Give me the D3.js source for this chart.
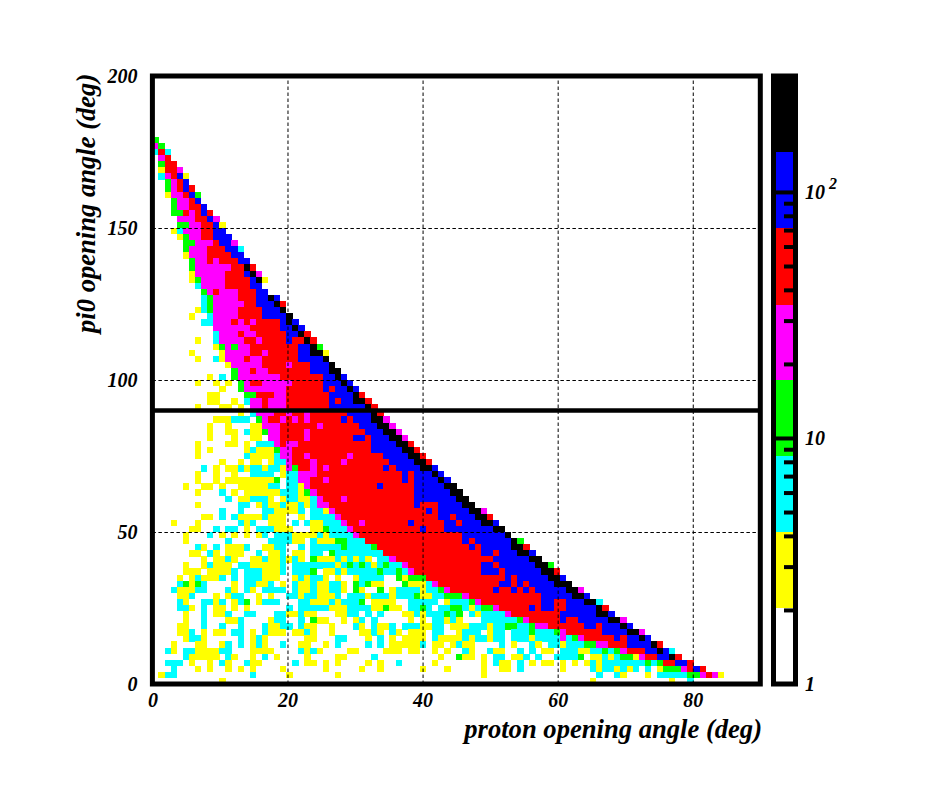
<!DOCTYPE html>
<html><head><meta charset="utf-8"><style>html,body{margin:0;background:#fff}svg{display:block}text{font-family:"Liberation Serif",serif;font-weight:bold;font-style:italic;fill:#000}</style>
<script src="https://cdn.jsdelivr.net/npm/d3@7"></script></head><body><svg id="c" width="937" height="790"></svg>
<script>
const xTicks=[0,20,40,60,80], yTicks=[0,50,100,150,200];
const xGrid=[20,40,60,80], yGrid=[50,100,150];
const bandColors=["#ffffff","#ffff00","#00ffff","#00ff00","#ff00ff","#ff0000","#0000ff","#000000"];
const bandEdges=[1,2.03,4.14,8.45,17.2,34.8,71.5,146,296];
const barMinor=[2,3,4,5,6,7,8,9,20,30,40,50,60,70,80,90];
const barMajor=[10,100];
const cutValue=90;
// occupied bins, top row first (row 89 down to row 0); "from-to:colourBand"
const binRows=[
"0:3","0:4 1:3","0:2 1:5 2:2","1:4 2:5","1:3 2-3:5","1:1 2-3:5 4:4","1:2 2:4 3:5 4:6 5:1","2:3 3:4 4:5 5:6","2:3 3:4 4:5 5:6 6:5","2:1 3-4:4 5:5 6:6 7:3",
"3:3 4-5:4 6:5 7:6","3:3 4-5:4 6-7:5 8:6","3-4:3 5:5 6:4 7:5 8:6 9:5","4-6:4 7-8:5 9:6 10:4","4-5:3 6-7:4 8-9:5 10:6 11:1","3:1 4:2 5-7:4 8-9:5 10-11:6","4:1 5:3 6-7:4 8-9:5 10-12:6","5-6:3 7-9:4 10:5 11-12:6 13:4","5:3 6-8:4 9-11:5 12-13:6 14:2","5:1 6-8:4 9-12:5 13-14:6",
"6:3 7-8:4 9:5 10:4 11-13:5 14-15:6","6:3 7-12:4 13-14:5 15:7 16:5","6:1 7-11:4 12-14:5 15:6 16:7 17:4","6:1 7:3 8-11:4 12-15:5 16:6 17:7 18:1","7:2 8-11:4 12-15:5 16-17:6","8:3 9:4 10:5 11-13:4 14-16:5 17-18:6","8:2 9:3 10-13:4 14-16:5 17-18:6 19:7 20:6","8:2 9:3 10-14:4 15-16:5 17-19:6 20:7 21:5","7:1 8:2 9:3 10-13:4 14-17:5 18-20:6 21:7","6:1 9:2 10-13:4 14-17:5 18-21:6 22:7",
"8-9:2 10-12:4 13:5 14:4 15:5 16:4 17-20:5 21:6 22:7 23:6","10-15:4 16-20:5 21-22:6 23:7 24:6","10:2 11-13:4 14:5 15-16:4 17-21:5 22-23:6 24:7 25:5","7:1 10:2 11-14:4 15-16:5 17:4 18-21:5 22:6 23-24:5 25:7 26:5","10:1 11:3 12:4 13:3 14-15:4 16-23:5 24-25:6 26:7 27:3","6:1 11:1 12-15:4 16-17:5 18:4 19-23:5 24-25:6 26-27:7 28:1","7:1 10:2 11:1 12-14:4 15:5 16-17:4 18-23:5 24-27:6 28:7","12:1 13-17:4 18-21:5 22:4 23-25:5 26-28:6 29:7","13:3 14-15:4 16:5 17-18:4 19-25:5 26-28:6 29-30:7","9:1 11:2 13:3 14-20:4 21-27:5 28-29:6 30:7 31:6",
"7:1 10:1 12:1 14:3 15:4 16-17:5 18-22:4 23-27:5 28-30:6 31:7 32:6","11:1 14:3 15-21:4 22-27:5 28:6 29:5 30-31:6 32:7 33:6","9-10:1 15-16:3 17-19:5 20-21:4 22-28:5 29-32:6 33:7 34:5","9-10:1 13:1 15:2 16-17:4 18:5 19-21:4 22-28:5 29:6 30:5 31-32:6 33-34:7 35:5","7:1 11-12:1 14:1 16-17:4 18:5 19-21:4 22-28:5 29-34:6 35:7 36:5","14:1 16:2 17-19:4 20-21:5 22:4 23-24:5 25:4 26-31:5 32-35:6 36:7 37:5","10-12:1 13-15:2 17:3 18:4 19-20:5 21:4 22:5 23:4 24:5 25:4 26-30:5 31:6 32:5 33-35:6 36-37:7 38:4","9:1 12:1 16-17:1 18-20:4 21-26:5 27:4 28-33:5 34-36:6 37-38:7 39:4","9:1 12-13:1 15:2 16-17:1 18:3 19-20:4 21-24:5 25:4 26-34:5 35-37:6 38-39:7 40:4","9:1 13:1 16-17:1 19-20:4 21-24:5 25:4 26-32:5 33-34:6 35:5 36-38:6 39-40:7 41:4",
"7:1 12-13:1 15:1 17-19:2 20:4 21:5 22-23:4 24-35:5 36-39:6 40-41:7 42:5","7:1 9:1 15:1 16:2 17-19:1 20:3 21-22:4 23-35:5 36-40:6 41-42:7 43:5","7:1 15:2 16-19:1 20:2 21-22:4 23-24:5 25:4 26-31:5 32:4 33-37:5 38-41:6 42-43:7 44:5","11:1 14:1 16-17:1 19:1 20-21:2 22:4 23-25:5 26:4 27-30:5 31:4 32-38:5 39-42:6 43-44:7 45:5","8:2 10:1 12-13:1 14:2 15:1 16-17:2 18:1 19-20:2 21:1 22:4 23:3 24-25:5 26:4 27:5 28:4 29-37:5 38:6 39:5 40-43:6 44-45:7 46:6","7:1 10:1 13:1 16-19:2 21:1 22-23:2 24-26:4 27-40:5 41:6 42:5 43-45:6 46:7 47:6","7:1 10:1 12-19:1 20:3 22-23:2 24-25:4 26-27:5 28:4 29-40:5 41:6 42:5 43-46:6 47:7 48:6","5:1 8-9:1 11:1 14-18:1 19-20:2 22-23:2 24:1 25:4 26-36:5 37:6 38-42:5 43-47:6 48-49:7","7:1 11:2 13:1 15-20:1 21-23:2 24:1 25:3 26:4 27-42:5 43-48:6 49-50:7","12:2 14-15:1 16-18:2 19:1 21:1 22-23:2 24-25:1 26:2 27:4 28-30:5 31:4 32-42:5 43-49:6 50-51:7",
"7:1 14-15:2 17:1 18:2 19-20:1 21:2 22-23:1 24:2 25:1 26:2 27-28:4 29-42:5 43:6 44-46:5 47-50:6 51-52:7","11:2 14:2 18-19:2 20-23:1 24:2 26-27:2 28:1 29:4 30-44:5 45:6 46:5 47-51:6 52-53:7 54:4","8-9:1 11:2 13:2 14-17:1 18:2 19-21:1 24:1 26-29:2 30:4 31-46:5 47-48:6 49:5 50-52:6 53-54:7 55:5","3:1 7:1 14:2 15:1 16:2 19-21:1 23:2 25:2 26-27:1 28-30:2 31:4 32-33:5 34:4 35-41:5 42:6 43-47:5 48-49:6 50:5 51-53:6 54-55:7 56:6","6-7:1 10:2 12-13:2 15:1 17-19:2 20-22:1 26-27:1 28:3 29-31:2 32:4 33-43:5 44:6 45-47:5 48-55:6 56-57:7","5:1 9:2 11:1 13:1 15:1 17:1 18:2 20-22:2 23-26:1 27:2 28:1 29-32:2 33:4 34-50:5 51-57:6 58:7","5:1 12:2 19-22:2 23-24:1 26:2 27-29:1 30-31:3 32-34:2 35-50:5 51:6 52:5 53-58:6 59:7 60:3","7:2 8:1 10:2 12-14:1 15:2 18-19:1 20-21:2 24:2 26-30:2 31:3 32-35:2 36:3 37-51:5 52:6 53:5 54-58:6 59-60:7 61:5","6-7:1 9:2 10:1 12-14:1 17:2 19-20:1 21:2 23-24:1 26-27:2 29:3 30-37:2 38-53:5 54-55:6 56:5 57-59:6 60-61:7 62:6","8:1 10-11:1 12:2 13:1 16-17:1 18:2 19-20:1 21:2 22:1 23:2 24:1 26:3 27-29:1 30:2 31:1 32:2 33:1 34:2 35:1 37-38:2 39:4 40-55:5 56-61:6 62-63:7",
"5:1 8:1 9:2 10-12:1 14-15:2 16-20:1 21:2 23-29:2 30:1 31:2 32:3 33:2 34:3 35:2 36:1 37:2 38:3 39-40:2 41:4 42-53:5 54-55:6 56:5 57-62:6 63-64:7 65:3","5-7:1 9-12:1 13:2 15-17:2 18-20:1 21:2 23-25:2 26:3 28-29:1 30:2 31:1 32-36:2 37:3 38-39:2 40:3 41:2 42:4 43-53:5 54-56:6 57:5 58-63:6 64-65:7 66:5","4:1 6:1 7:2 8-10:1 11:2 13:2 15-17:2 18-20:1 23:1 24:2 25:1 26-27:2 28:1 30:1 33:1 34-37:2 40:3 41:1 42-44:3 45-57:5 58:6 59:5 60-64:6 65-66:7 67:6","4:2 5:3 6:1 7:3 8:2 13:1 15-16:2 17-18:1 19:2 21:1 23:2 24-25:1 26:2 27-28:1 29-30:2 31:1 33:3 34:2 35:3 36-37:1 41:3 42-44:1 45:2 46:4 47-56:5 57-58:6 59:5 60:6 61:5 62-65:6 66-68:7","3:2 4-6:1 7-8:2 12:2 13:1 15:2 16:1 18-21:2 23:2 24-25:1 26:2 27-28:1 29-30:2 31:1 33:3 34:1 37:3 39:1 40-43:2 44:1 45-46:2 47:3 48:4 49-55:5 56:6 57-58:5 59:6 60:5 61:6 62:5 63-67:6 68-69:7 70:4","4-5:1 6:2 10:1 12:1 13-14:2 17:1 19:1 22-23:2 24:1 25-26:2 27-29:1 30:2 32-34:2 35:1 36-38:2 39:1 40-42:2 43:3 44-45:1 46-47:2 48-50:3 51:4 52-63:5 64-68:6 69-70:7 71:6","4:2 5:1 8-9:2 10:1 11:2 13:1 14:2 15:3 17:1 18-20:2 24-25:2 26-28:1 29:2 30:1 31-33:2 34:3 36-39:1 42-46:2 48:1 49-51:2 52:3 53:4 54-63:5 64-65:6 66-67:5 68-70:6 71-72:7 73:2","4-5:2 6:1 8:2 10-11:1 13:1 15:1 22:2 24-28:2 29-31:1 32-35:2 36-37:1 38:3 39-40:1 42-43:2 44:3 45:2 47-48:2 49-50:3 51:2 52:1 53:2 54-55:3 56:4 57-61:5 62:6 63:5 64-65:6 66-67:5 68-72:6 73:7 74:5","5:1 8:2 10-11:1 12:2 15-16:2 20-21:2 22-23:1 24:2 25-26:1 30-31:1 32-33:2 35:2 37:2 41-42:1 43:2 44:1 45-47:2 48:3 49:2 50:3 52:2 53:1 54-57:2 58:4 59-66:5 67-72:6 73-74:7 75:6","5:1 8:2 12-13:1 14:2 19:1 20-21:2 24:2 26:3 27-28:1 31:1 33:1 34:2 36:2 42:1 44:1 46-47:2 48:1 49:2 50:1 54-59:2 60:3 61:4 62-66:5 67:6 68-69:5 70-74:6 75-76:7 77:4",
"4-5:1 8:2 11:2 14:2 18:2 19-20:1 21-22:2 24:2 25-26:1 29:1 33:2 34:1 36:2 37-38:1 39:2 41-43:2 44-45:1 46-47:2 49-51:1 52-54:2 55:1 56-57:2 58-59:3 60-61:2 62:3 63-64:4 65-70:5 71-72:6 73:5 74-76:6 77:7 78:6","4-5:1 6:2 8:1 10-11:1 13-14:2 16:1 18:2 19-21:1 23-24:1 25:2 26:1 29:1 34-35:1 36:2 37:1 39:2 40:1 42-44:1 46-47:2 50:1 51-53:2 55:1 56-57:2 59-61:2 62:3 63-65:2 66:3 67:4 68-73:5 74-77:6 78-79:7 80:4","5:1 6-7:2 8:1 14:2 16:1 17:2 18:1 25-26:1 30-31:2 35:1 37:2 39:1 41-44:1 46:2 47-50:1 51:2 52:1 53-54:2 55:1 56-57:2 59-61:2 62:1 63-66:2 67:4 68:2 69:3 70:4 71-75:5 76:6 77:5 78-79:6 80:7 81:6","3:1 7-8:1 11:1 12:2 14:2 16:1 17:2 18:1 21:2 24-25:1 28:1 30:2 35:2 37:2 39-43:1 44:2 46-47:1 49:1 50:2 51-52:1 57:2 59:1 62:2 63:1 65-66:2 67:1 68-70:2 71-72:3 73-74:4 75-77:5 78-81:6 82:7 83:5","2:2 3:1 5-6:2 7-10:1 11-12:2 16-19:1 24:2 25:1 26:2 27:1 32-33:1 38-40:1 42-43:1 46:1 48:1 51:2 52:1 55:2 56-57:1 60:2 62:2 64-65:1 67-69:2 70-71:1 72-73:2 74:3 75:2 76:3 77:4 78-80:5 81-82:6 83:7 84:6 85:2","5:2 6-10:1 12:2 13:1 16:1 18:2 20:1 25:1 30-31:1 36:2 47:1 50:3 51-52:1 54:1 56-57:2 59-60:1 61:2 63:2 66-69:2 70:3 72-73:1 74:2 75:1 76:2 77-78:3 79:1 80:4 81-82:5 83-84:6 85:7 86:5","2-4:2 6:1 9:1 11:2 12:1 15:2 16-17:1 23:2 25-26:1 28:1 30:1 35:1 37:1 40:2 46:1 54:1 56:2 57-58:1 60:2 62:1 64-65:1 67:1 69:1 71:1 72:2 73:1 74-80:2 81:3 82:2 83:3 84-85:5 86-87:6 88:5","3:2 7:1 9:1 12:1 14:1 16:1 21:1 28:1 34:1 37:1 44:1 48:1 54:1 57-58:1 60:2 67:1 72:2 73:1 74-75:2 76:1 77:2 78:1 79:2 81:2 83:1 84-86:3 87:4 88:5 89:6 90:5","1:1 2-3:2 16:2 22:1 30:1 54:1 73:2 76:2 77:1 81:1 83-87:2 88-89:3 90:4 91:5 92:4 93:1","11:1 72:1 85:1 88:2"
];
const xBin=0.9, yBin=2, topRow=binRows.length-1;
const cells=[];
binRows.forEach((s,i)=>{const row=topRow-i;s.split(" ").forEach(t=>{const [rng,lv]=t.split(":");const [a,b]=rng.split("-").map(Number);
 for(let c=a;c<=(b===undefined?a:b);c++)cells.push({c,row,lv:+lv});});});

const svg=d3.select("#c");
const x=d3.scaleLinear().domain([0,90]).range([152.4,760.3]);
const y=d3.scaleLinear().domain([0,200]).range([684,76]);
const color=d3.scaleOrdinal().domain(d3.range(bandColors.length)).range(bandColors);
svg.append("g").attr("shape-rendering","crispEdges").selectAll("rect").data(cells).join("rect")
 .attr("x",d=>x(d.c*xBin)).attr("y",d=>y((d.row+1)*yBin))
 .attr("width",x(xBin)-x(0)+0.3).attr("height",y(0)-y(yBin)+0.3).attr("fill",d=>color(d.lv));

// dashed grid
const gx=svg.append("g").attr("transform",`translate(0,${y(0)})`).call(d3.axisBottom(x).tickValues(xGrid).tickSize(-(y(0)-y(200))).tickFormat(""));
const gy=svg.append("g").attr("transform",`translate(${x(0)},0)`).call(d3.axisLeft(y).tickValues(yGrid).tickSize(-(x(90)-x(0))).tickFormat(""));
[gx,gy].forEach(g=>{g.select(".domain").remove();g.selectAll("line").attr("stroke","#000").attr("stroke-width",1).attr("stroke-dasharray","3.5 2.5");});

// frame and cut
svg.append("rect").attr("x",x(0)).attr("y",y(200)).attr("width",x(90)-x(0)).attr("height",y(0)-y(200)).attr("fill","none").attr("stroke","#000").attr("stroke-width",5);
svg.append("line").attr("x1",x(0)).attr("x2",x(90)).attr("y1",y(cutValue)).attr("y2",y(cutValue)).attr("stroke","#000").attr("stroke-width",4.5);

// tick labels
const ax=svg.append("g").attr("transform",`translate(0,${y(0)})`).call(d3.axisBottom(x).tickValues(xTicks).tickSize(0).tickPadding(9).tickFormat(d3.format("d")));
const ay=svg.append("g").attr("transform",`translate(${x(0)},0)`).call(d3.axisLeft(y).tickValues(yTicks).tickSize(0).tickPadding(15).tickFormat(d3.format("d")));
[ax,ay].forEach(g=>{g.select(".domain").remove();g.selectAll("text").style("font-family",'"Liberation Serif",serif').style("font-size","20px").style("font-weight","bold").style("font-style","italic").attr("fill","#000");});

svg.append("text").attr("x",762).attr("y",738).attr("text-anchor","end").style("font-size","26.6px").text("proton opening angle (deg)");
svg.append("text").attr("transform","translate(95,333) rotate(-90)").attr("text-anchor","start").style("font-size","26.6px").text("pi0 opening angle (deg)");

// colour bar
const bar=d3.scaleLog().domain([1,296]).range([684,76]);
const barX=776, barW=17;
svg.append("g").attr("shape-rendering","crispEdges").selectAll("rect").data(d3.range(bandColors.length)).join("rect")
 .attr("x",barX).attr("width",barW).attr("y",i=>bar(bandEdges[i+1])).attr("height",i=>bar(bandEdges[i])-bar(bandEdges[i+1])).attr("fill",i=>color(i));
const minorAxis=svg.append("g").attr("transform",`translate(${barX+barW+2},0)`).call(d3.axisLeft(bar).tickValues(barMinor).tickSize(11).tickFormat(""));
const majorAxis=svg.append("g").attr("transform",`translate(${barX+barW+2},0)`).call(d3.axisLeft(bar).tickValues(barMajor).tickSize(21).tickFormat(""));
[minorAxis,majorAxis].forEach(g=>{g.select(".domain").remove();g.selectAll("line").attr("stroke","#000").attr("stroke-width",4);});
svg.append("rect").attr("x",773.5).attr("y",76).attr("width",22).attr("height",608).attr("fill","none").attr("stroke","#000").attr("stroke-width",5);
const barLabel=(v,t)=>svg.append("text").attr("x",805).attr("y",bar(v)+7).style("font-size","20px").text(t);
barLabel(1,"1");barLabel(10,"10");barLabel(100,"10");
svg.append("text").attr("x",829).attr("y",bar(100)-3).style("font-size","16px").text("2");
</script></body></html>
